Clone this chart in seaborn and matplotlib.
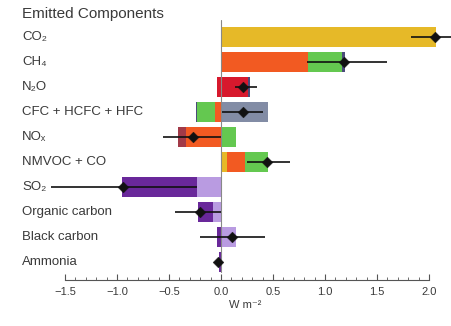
import numpy as np
import pandas as pd
import matplotlib
matplotlib.use("Agg")
import matplotlib.pyplot as plt
from matplotlib.ticker import FixedLocator
import seaborn as sns

# ---------------- data ----------------
categories = ["CO₂", "CH₄", "N₂O", "CFC + HCFC + HFC", "NOₓ",
              "NMVOC + CO", "SO₂", "Organic carbon", "Black carbon", "Ammonia"]

# component contributions per emitted species (W m-2)
comp_co2       = [2.07, 0.00, 0.00, 0.00, 0.00, 0.06, 0.00, 0.00, 0.00, 0.00]
comp_ch4       = [0.00, 0.84, 0.00, -0.06, -0.34, 0.17, 0.00, 0.00, 0.00, 0.00]
comp_n2o       = [0.00, 0.00, 0.26, 0.00, 0.00, 0.00, 0.00, 0.00, 0.00, 0.00]
comp_n2o_neg   = [0.00, 0.00, -0.04, 0.00, 0.00, 0.00, 0.00, 0.00, 0.00, 0.00]
comp_halo      = [0.00, 0.00, 0.00, 0.45, 0.00, 0.00, 0.00, 0.00, 0.00, 0.00]
comp_o3        = [0.00, 0.32, 0.00, -0.17, 0.14, 0.22, 0.00, 0.00, 0.00, 0.00]
comp_h2o       = [0.00, 0.03, 0.02, -0.01, 0.00, 0.00, 0.00, 0.00, 0.00, 0.00]
comp_nitrate   = [0.00, 0.00, 0.00, 0.00, -0.07, 0.00, 0.00, 0.00, 0.00, 0.00]
comp_aer_light = [0.00, 0.00, 0.00, 0.00, 0.00, 0.00, -0.23, -0.08, 0.14, 0.00]
comp_aer_dark  = [0.00, 0.00, 0.00, 0.00, 0.00, 0.00, -0.72, -0.14, -0.04, -0.02]

totals   = [2.06, 1.18, 0.21, 0.21, -0.27, 0.44, -0.94, -0.20, 0.11, -0.03]
err_low  = [1.83, 0.83, 0.13, 0.01, -0.56, 0.25, -1.63, -0.44, -0.20, -0.05]
err_high = [2.32, 1.60, 0.35, 0.40, 0.00, 0.66, -0.23, 0.00, 0.42, -0.01]

xticks = [-1.5, -1.0, -0.5, 0.0, 0.5, 1.0, 1.5, 2.0]
title = "Emitted Components"
xlabel = "W m⁻²"

# ---------------- style ----------------
components = [
    (comp_co2, "#E6B928"),
    (comp_ch4, "#F25A22"),
    (comp_n2o, "#D7192D"),
    (comp_n2o_neg, "#D7192D"),
    (comp_halo, "#828CA5"),
    (comp_o3, "#64C850"),
    (comp_h2o, "#4B4B7A"),
    (comp_nitrate, "#A23A48"),
    (comp_aer_light, "#B99BE1"),
    (comp_aer_dark, "#69289A"),
]

sns.set_theme(style="white")
plt.rcParams["font.family"] = ["Liberation Sans", "DejaVu Sans"]
txt_color = "#3a3a3a"

W, H = 452, 326
fig = plt.figure(figsize=(W / 100, H / 100), dpi=100)
ax = fig.add_axes([0, 46 / H, 1, 260 / H])

zero_px = 221.0
px_per_unit = 104.0
ax.set_xlim((0 - zero_px) / px_per_unit, (W - zero_px) / px_per_unit)
ax.set_ylim(9.72, -0.68)

y = np.arange(len(categories))
pos_left = np.zeros(len(categories))
neg_left = np.zeros(len(categories))
for vals, col in components:
    v = np.array(vals)
    pos = np.where(v > 0, v, 0)
    neg = np.where(v < 0, v, 0)
    ax.barh(y, pos, left=pos_left, height=0.8, color=col, linewidth=0)
    ax.barh(y, neg, left=neg_left, height=0.8, color=col, linewidth=0)
    pos_left += pos
    neg_left += neg

# zero line
ax.axvline(0, ymin=0.03, ymax=1.0, color="#888888", lw=0.8, zorder=1)

# error bars
ax.hlines(y, err_low, err_high, color="#111111", lw=1.2, zorder=4)
df = pd.DataFrame({"total": totals, "y": y})
sns.scatterplot(data=df, x="total", y="y", marker="D", s=30, color="#111111",
                edgecolor="#111111", linewidth=0.3, ax=ax, zorder=5, legend=False)

# row labels
label_x = (22 - zero_px) / px_per_unit
for yi, name in zip(y, categories):
    ax.text(label_x, yi, name, ha="left", va="center", fontsize=9.5,
            color=txt_color, zorder=6)

fig.text(22 / W, 1 - 14 / H, title, ha="left", va="center",
         fontsize=11, color=txt_color)

# axes styling
for s in ["top", "right", "left"]:
    ax.spines[s].set_visible(False)
ax.spines["bottom"].set_bounds(xticks[0], xticks[-1])
ax.spines["bottom"].set_color("#555555")
ax.spines["bottom"].set_linewidth(0.8)
ax.set_yticks([])
ax.set_ylabel("")
ax.set_xlabel("")
ax.set_xticks(xticks)
ax.set_xticklabels([f"{t:.1f}".replace("-", "−") for t in xticks])
minor = np.round(np.arange(xticks[0], xticks[-1] + 0.001, 0.1), 2)
ax.xaxis.set_minor_locator(FixedLocator(minor))
ax.tick_params(axis="x", which="major", direction="in", length=4, width=0.8,
               color="#555555", labelsize=8, labelcolor=txt_color, pad=5,
               bottom=True)
ax.tick_params(axis="x", which="minor", direction="in", length=2.5, width=0.6,
               color="#555555", bottom=True)
ax.grid(False)

fig.text(245 / W, 1 - 305 / H, xlabel, ha="center", va="center",
         fontsize=8, color=txt_color)

fig.savefig("out.png", dpi=100)
